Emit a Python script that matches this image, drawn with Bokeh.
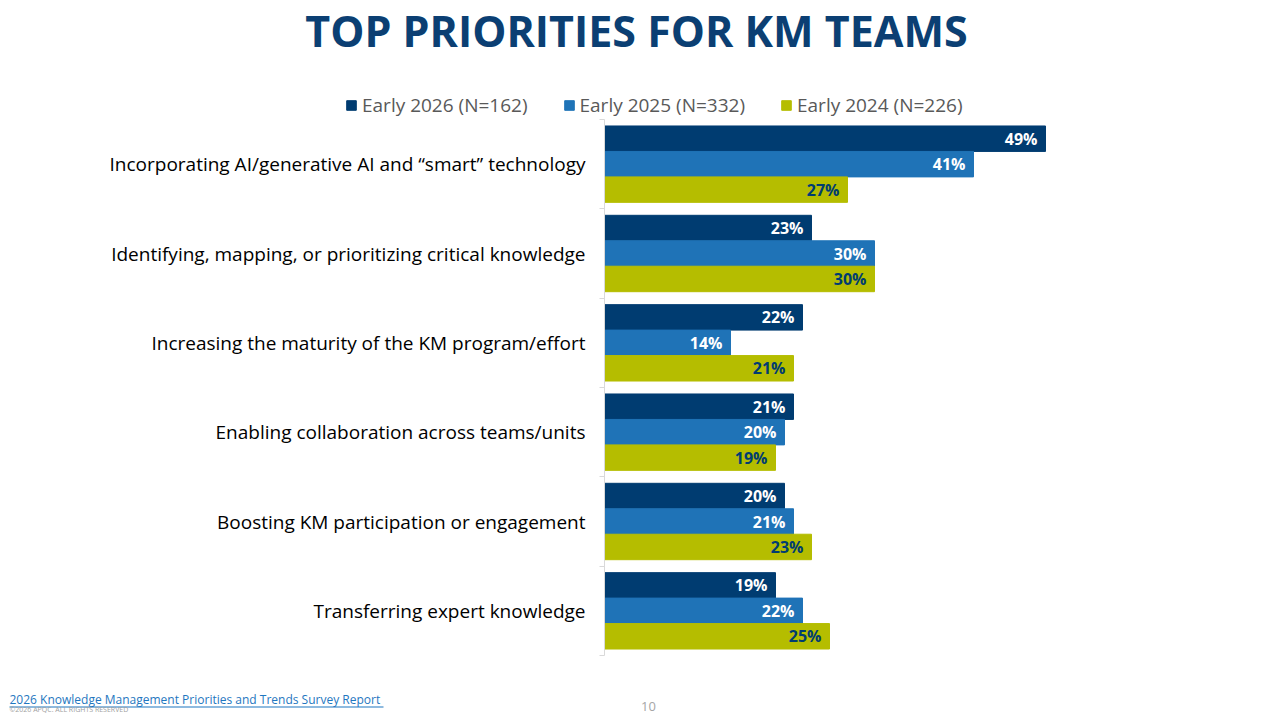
from bokeh.plotting import figure
from bokeh.models import (ColumnDataSource, LabelSet, Label, Legend, LegendItem,
                          Range1d, FixedTicker, BoxAnnotation)
from bokeh.transform import dodge
from bokeh.core.properties import value
from bokeh.embed import file_html
from bokeh.resources import INLINE

categories = [
    "Incorporating AI/generative AI and \u201csmart\u201d technology",
    "Identifying, mapping, or prioritizing critical knowledge",
    "Increasing the maturity of the KM program/effort",
    "Enabling collaboration across teams/units",
    "Boosting KM participation or engagement",
    "Transferring expert knowledge",
]
early_2026 = [49, 23, 22, 21, 20, 19]
early_2025 = [41, 30, 14, 20, 21, 22]
early_2024 = [27, 30, 21, 19, 23, 25]
series_names = ["Early 2026 (N=162)", "Early 2025 (N=332)", "Early 2024 (N=226)"]

FONT = "Open Sans"
c2026 = "#003C71"
c2025 = "#1F73B7"
c2024 = "#B5BD00"

W, H = 1270, 713
# plot area in pixels: zero line at x=604, 9px per percent, bands from y=119 to 655
X0, PX = 604, 9.0
TOP, BOT = 119, 655

n = len(categories)
band = (BOT - TOP) / n
pos = [n - i - 0.5 for i in range(n)]

source = ColumnDataSource(data=dict(
    pos=pos,
    v2026=early_2026, v2025=early_2025, v2024=early_2024,
    t2026=[f"{v}%" for v in early_2026],
    t2025=[f"{v}%" for v in early_2025],
    t2024=[f"{v}%" for v in early_2024],
))

p = figure(width=W, height=H,
           x_range=Range1d(-X0 / PX, (W - X0) / PX),
           y_range=Range1d(-(H - BOT) / band, n + TOP / band),
           toolbar_location=None, tools="", output_backend="svg", min_border=0)
p.outline_line_color = None
p.grid.grid_line_color = None
p.xaxis.visible = False

bh = 0.285
r26 = p.hbar(y=dodge("pos", bh, range=p.y_range), right="v2026", left=0, height=bh,
             color=c2026, source=source)
r25 = p.hbar(y=dodge("pos", 0, range=p.y_range), right="v2025", left=0, height=bh,
             color=c2025, source=source)
r24 = p.hbar(y=dodge("pos", -bh, range=p.y_range), right="v2024", left=0, height=bh,
             color=c2024, source=source)

for off, col, tc in [(bh, "t2026", "white"), (0, "t2025", "white"), (-bh, "t2024", c2026)]:
    labels = LabelSet(x="v" + col[1:], y=dodge("pos", off, range=p.y_range), text=col,
                      source=source, x_offset=-8, text_align="right", text_baseline="middle",
                      text_font=value(FONT), text_font_style="bold", text_font_size="16px",
                      text_color=tc)
    p.add_layout(labels)

# y axis sits at x=0: category names at band centres, small ticks at band edges
yaxis = p.yaxis[0]
yaxis.fixed_location = 0
yaxis.bounds = (0, n)
yaxis.ticker = FixedTicker(ticks=pos, minor_ticks=list(range(n + 1)))
yaxis.major_label_overrides = {pp: c for pp, c in zip(pos, categories)}
yaxis.major_label_text_font = FONT
yaxis.major_label_text_font_size = "19px"
yaxis.major_label_text_color = "#000000"
yaxis.major_label_standoff = 13
yaxis.major_tick_line_color = None
yaxis.minor_tick_out = 5
yaxis.minor_tick_in = 0
yaxis.minor_tick_line_color = "#D9D9D9"
yaxis.axis_line_color = "#D9D9D9"

legend = Legend(items=[LegendItem(label=series_names[0], renderers=[r26]),
                       LegendItem(label=series_names[1], renderers=[r25]),
                       LegendItem(label=series_names[2], renderers=[r24])],
                orientation="horizontal", location=(345, H - 118),
                glyph_width=12, glyph_height=12, label_standoff=5, spacing=35,
                padding=0, margin=0, border_line_color=None, background_fill_alpha=0,
                label_text_font=FONT, label_text_font_size="19px",
                label_text_color="#595959", label_height=20)
p.add_layout(legend, "center")

p.add_layout(Label(x=636, y=H - 59, x_units="screen", y_units="screen",
                   text="TOP PRIORITIES FOR KM TEAMS", text_align="center",
                   text_font=FONT, text_font_style="bold", text_font_size="43px",
                   text_color="#0B3F73"))

# footer
p.add_layout(Label(x=9, y=H - 707, x_units="screen", y_units="screen",
                   text="2026 Knowledge Management Priorities and Trends Survey Report",
                   text_font=FONT, text_font_size="12px", text_color="#1F77C0"))
p.add_layout(BoxAnnotation(left=9, right=383, bottom=H - 707, top=H - 706,
                           left_units="screen", right_units="screen",
                           bottom_units="screen", top_units="screen",
                           fill_color="#1F77C0", fill_alpha=1, line_color=None))
p.add_layout(Label(x=9, y=0, x_units="screen", y_units="screen",
                   text="\u00a92026 APQC. ALL RIGHTS RESERVED",
                   text_font=FONT, text_font_size="7px", text_color="#A0A0A0"))
p.add_layout(Label(x=648, y=3, x_units="screen", y_units="screen",
                   text="10", text_align="center",
                   text_font=FONT, text_font_size="13px", text_color="#A6A6A6"))

open("out.html", "w").write(file_html(p, INLINE))
